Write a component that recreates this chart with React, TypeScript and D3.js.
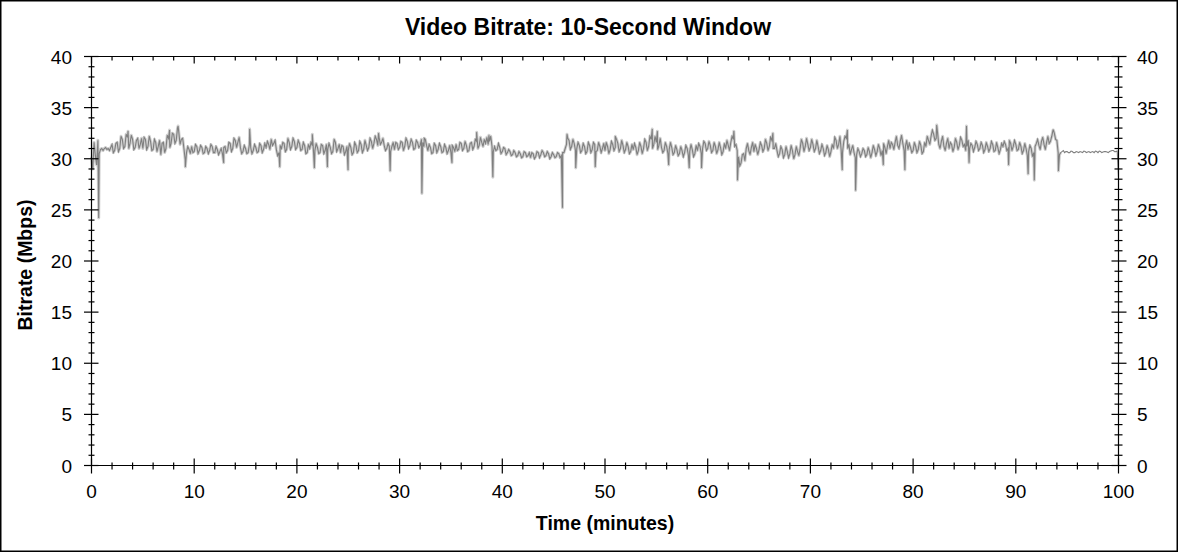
import { useEffect, useRef } from 'react';
import * as d3 from 'd3';

// minutes between samples in `bitrate`
const sampleStep = 0.25;

// 10-second window bitrate (Mbps) at t = 0, 0.25, 0.5 ... 100 min
const bitrate = [
  30.2, 31.6, 29.4, 30.5, 31.0, 31.0, 30.9, 30.8, 31.4, 30.8, 31.6, 31.0, 31.9, 31.2, 32.1, 31.5, 31.9, 31.1, 32.0, 31.4,
  31.0, 31.9, 31.2, 31.7, 30.9, 31.6, 31.2, 30.4, 31.6, 31.0, 32.0, 31.5, 32.4, 31.8, 32.6, 31.9, 31.0, 30.6, 30.9, 31.2,
  30.7, 31.2, 30.8, 31.1, 30.6, 31.0, 30.8, 31.2, 30.6, 30.9, 30.7, 30.5, 31.2, 30.8, 31.5, 31.0, 31.8, 31.6, 31.1, 30.7,
  31.0, 30.6, 31.1, 30.8, 31.1, 30.7, 31.3, 30.9, 31.1, 31.4, 31.9, 31.5, 30.9, 30.6, 31.0, 31.5, 30.9, 31.6, 31.2, 31.7,
  31.1, 31.5, 30.9, 31.3, 30.6, 31.0, 31.3, 30.8, 31.1, 30.6, 31.3, 30.8, 30.9, 31.1, 30.7, 31.6, 31.0, 30.6, 31.2, 30.7,
  30.8, 31.1, 30.6, 31.3, 30.8, 31.4, 30.9, 31.3, 31.1, 31.7, 31.5, 31.9, 32.1, 31.6, 31.3, 31.0, 31.2, 31.2, 30.9, 31.5,
  31.1, 31.6, 31.2, 31.7, 31.3, 31.6, 31.0, 31.6, 31.3, 31.6, 31.9, 30.8, 31.1, 30.6, 31.3, 30.9, 31.2, 30.7, 31.1, 30.8,
  30.6, 31.1, 31.4, 30.9, 31.5, 31.0, 31.3, 30.8, 31.6, 31.2, 31.7, 31.3, 31.6, 31.9, 32.1, 31.7, 31.2, 31.2, 30.9, 31.1,
  30.7, 31.0, 30.6, 30.7, 30.4, 30.6, 30.3, 30.5, 30.2, 30.6, 30.3, 30.1, 30.5, 30.2, 30.6, 30.4, 30.6, 30.3, 30.5, 30.2,
  30.4, 30.2, 30.5, 30.3, 30.6, 31.4, 31.8, 31.2, 31.5, 31.0, 31.3, 30.8, 31.2, 30.7, 31.3, 30.9, 31.4, 30.8, 31.2, 31.0,
  30.8, 31.2, 30.9, 31.4, 31.1, 31.5, 31.0, 31.3, 30.9, 31.2, 30.7, 30.9, 31.1, 30.8, 31.2, 31.0, 31.6, 31.2, 31.9, 31.4,
  31.6, 31.3, 31.1, 30.8, 31.2, 30.9, 31.1, 30.6, 30.9, 30.5, 30.8, 30.6, 31.0, 30.7, 30.9, 30.5, 30.8, 31.2, 31.0, 31.5,
  31.0, 31.3, 30.8, 31.2, 30.9, 31.1, 30.7, 31.0, 31.3, 31.6, 31.9, 31.4, 30.2, 29.6, 30.5, 31.0, 30.8, 31.1, 30.7, 31.0,
  30.9, 31.3, 31.0, 31.5, 31.2, 31.8, 31.0, 30.8, 30.5, 30.9, 30.4, 30.7, 30.5, 30.8, 30.4, 30.7, 31.0, 31.5, 31.2, 31.4,
  31.1, 31.4, 31.0, 31.2, 30.8, 31.0, 30.6, 30.9, 30.7, 31.0, 31.8, 31.4, 30.8, 31.7, 32.0, 31.4, 30.9, 30.6, 30.4, 30.7,
  30.5, 30.8, 30.4, 30.7, 30.6, 30.9, 30.7, 31.0, 30.8, 31.1, 31.2, 31.0, 31.4, 31.6, 31.3, 31.7, 31.5, 31.2, 30.9, 31.1,
  30.8, 31.2, 30.9, 31.3, 30.7, 31.2, 31.8, 32.2, 32.4, 32.0, 31.4, 31.7, 31.2, 31.5, 31.0, 31.4, 31.1, 31.6, 31.3, 31.8,
  31.4, 31.2, 31.0, 31.3, 31.1, 31.4, 31.0, 31.3, 30.9, 31.2, 31.0, 31.4, 30.8, 31.1, 30.9, 31.2, 31.4, 31.0, 31.5, 31.2,
  31.4, 30.9, 31.2, 30.8, 31.0, 30.7, 31.0, 30.6, 31.5, 31.3, 31.7, 31.4, 31.6, 31.5, 32.2, 32.5, 31.8, 30.4, 30.7, 30.6,
  30.7, 30.6, 30.7, 30.6, 30.65, 30.7, 30.6, 30.7, 30.65, 30.6, 30.7, 30.75, 30.6, 30.7, 30.65, 30.7, 30.6, 30.75, 30.8, 30.7,
  28.2,
];

// the in-between samples at t = 0.125, 0.375 ... 99.875 min
const bitrateMid = [
  29.0, 30.3, 31.8, 30.9, 30.8, 31.1, 31.0, 31.1, 30.6, 31.5, 30.7, 32.2, 31.0, 32.4, 31.0, 32.3, 30.9, 31.8, 31.0, 32.0,
  32.1, 30.9, 32.2, 30.8, 31.9, 30.7, 31.8, 31.5, 30.6, 32.3, 31.1, 32.5, 31.5, 33.0, 31.4, 32.0, 29.9, 31.2, 30.5, 30.6,
  31.4, 30.5, 31.3, 30.5, 31.2, 30.5, 31.4, 30.6, 31.2, 30.4, 31.0, 31.1, 30.6, 31.6, 30.7, 32.0, 31.1, 32.1, 30.5, 31.3,
  30.5, 31.4, 30.5, 31.4, 30.6, 31.5, 30.6, 31.5, 31.7, 30.9, 31.3, 31.8, 30.3, 31.3, 31.6, 30.7, 32.0, 30.9, 32.0, 30.9,
  31.8, 30.8, 31.6, 30.5, 31.4, 31.6, 30.6, 31.5, 30.5, 31.4, 30.5, 31.4, 31.5, 30.5, 31.9, 30.7, 31.4, 31.3, 30.4, 31.2,
  31.5, 30.4, 31.6, 30.6, 31.7, 30.6, 31.8, 30.8, 32.0, 31.0, 32.2, 31.3, 31.4, 32.0, 30.8, 31.5, 30.7, 31.6, 31.6, 30.9,
  31.7, 30.8, 32.0, 31.0, 31.9, 30.9, 31.8, 31.1, 31.9, 31.2, 31.3, 31.4, 30.5, 31.5, 30.6, 31.5, 30.6, 31.4, 30.5, 31.3,
  31.3, 30.7, 30.8, 31.6, 30.8, 31.7, 30.7, 31.5, 30.9, 31.9, 31.0, 32.1, 31.2, 31.5, 31.4, 32.2, 30.7, 30.8, 31.5, 30.5,
  31.1, 30.4, 30.9, 30.3, 30.8, 30.2, 30.7, 30.1, 30.7, 30.2, 30.6, 30.6, 30.0, 30.7, 30.1, 30.8, 30.2, 30.7, 30.0, 30.6,
  30.1, 30.6, 30.1, 30.6, 31.0, 32.0, 30.9, 31.9, 30.8, 31.6, 30.6, 31.5, 30.5, 31.6, 30.6, 31.6, 30.7, 31.6, 30.6, 31.5,
  31.6, 30.5, 31.7, 30.8, 31.9, 30.7, 31.8, 30.6, 31.6, 30.5, 31.4, 31.5, 30.4, 31.6, 30.5, 31.9, 30.8, 32.2, 31.0, 32.2,
  30.9, 32.0, 30.6, 31.6, 30.5, 31.6, 30.4, 31.3, 30.3, 31.2, 30.2, 31.3, 30.3, 31.4, 30.2, 31.3, 31.5, 30.5, 31.7, 30.8,
  31.7, 30.6, 31.6, 30.5, 31.6, 30.4, 31.5, 31.8, 30.8, 32.2, 31.2, 30.8, 29.3, 30.4, 29.8, 31.5, 30.4, 31.6, 31.4, 30.4,
  31.6, 30.7, 31.9, 30.8, 32.1, 31.0, 31.5, 30.2, 31.2, 30.1, 31.2, 30.1, 31.3, 30.0, 31.2, 30.3, 31.9, 30.7, 32.0, 30.8,
  31.9, 30.7, 31.8, 30.5, 31.4, 30.3, 31.3, 30.2, 31.4, 32.1, 31.0, 32.2, 30.6, 32.2, 31.0, 30.4, 31.3, 30.1, 31.0, 30.2,
  31.0, 30.2, 31.1, 30.1, 31.3, 30.3, 31.4, 30.3, 31.5, 30.5, 31.8, 31.6, 30.9, 32.2, 31.0, 32.3, 30.8, 31.8, 31.5, 30.6,
  31.6, 30.6, 31.7, 30.5, 31.6, 32.2, 31.4, 32.8, 31.8, 32.6, 31.0, 32.2, 30.8, 32.0, 31.6, 30.7, 32.0, 30.9, 32.1, 31.2,
  30.8, 31.8, 31.5, 30.7, 31.7, 30.8, 31.6, 30.6, 31.6, 30.7, 31.7, 30.7, 31.6, 30.5, 31.5, 31.7, 30.8, 31.8, 30.8, 31.8,
  30.8, 31.6, 30.5, 31.5, 30.3, 31.3, 30.2, 31.2, 31.9, 30.9, 32.1, 30.9, 32.2, 31.7, 32.8, 31.9, 30.6, 30.6, 30.8, 30.7,
  30.6, 30.75, 30.6, 30.7, 30.6, 30.65, 30.75, 30.6, 30.7, 30.65, 30.6, 30.7, 30.75, 30.6, 30.7, 30.65, 30.7, 30.8, 30.7, 30.75,
];

// short spikes and dips between samples: [minute, Mbps]
const spikes: [number, number][] = [
  [0.7, 24.2], [3.56, 32.7], [7.6, 32.8], [8.43, 33.2], [9.14, 29.2], [12.87, 29.6],
  [15.4, 32.9], [18.33, 29.2], [21.5, 32.4], [21.7, 29.1], [22.97, 29.2], [24.98, 28.9],
  [27.95, 32.5], [29.08, 28.8], [32.17, 26.6], [32.4, 32.0], [35.1, 29.6], [37.5, 32.6],
  [38.7, 32.3], [39.08, 28.2], [45.86, 25.2], [46.3, 32.4], [47.15, 29.1], [49.05, 29.2],
  [51.0, 32.2], [54.6, 32.9], [55.1, 32.7], [56.2, 29.4], [58.2, 29.1], [59.4, 29.1],
  [62.55, 32.7], [62.9, 27.9], [66.35, 32.5], [73.1, 28.9], [73.6, 32.8], [74.4, 26.9],
  [77.1, 29.4], [79.2, 28.9], [82.3, 33.3], [85.2, 33.2], [85.45, 29.6], [89.3, 29.4],
  [91.2, 28.5], [91.8, 27.9], [93.66, 32.8], [94.15, 28.8],
];

const xTicks = [0, 10, 20, 30, 40, 50, 60, 70, 80, 90, 100];
const yTicks = [0, 5, 10, 15, 20, 25, 30, 35, 40];

const FONT = "Arial, 'Liberation Sans', sans-serif";

const BitrateChart = () => {
  const svgRef = useRef<SVGSVGElement>(null);

  useEffect(() => {
    if (!svgRef.current) return;
    const width = 1178;
    const height = 552;
    const svg = d3.select(svgRef.current);
    svg.selectAll('*').remove();
    svg.attr('width', width).attr('height', height);

    const left = 91.5, right = 1118.5, top = 56.5, bottom = 465.5;

    const x = d3.scaleLinear().domain([0, 100]).range([left, right]);
    const y = d3.scaleLinear().domain([0, 40]).range([bottom, top]);

    svg.append('rect')
      .attr('x', 0.75).attr('y', 0.75)
      .attr('width', width - 1.5).attr('height', height - 1.5)
      .attr('fill', '#fff').attr('stroke', '#000').attr('stroke-width', 1.5);

    // title
    svg.append('text')
      .attr('x', 588).attr('y', 35)
      .attr('text-anchor', 'middle')
      .attr('font-family', FONT).attr('font-size', 23).attr('font-weight', 'bold')
      .text('Video Bitrate: 10-Second Window');

    // data
    const points = [
      ...bitrate.map((v, i) => ({ t: i * sampleStep, v })),
      ...bitrateMid.map((v, i) => ({ t: (i + 0.5) * sampleStep, v })),
      ...spikes.map(([t, v]) => ({ t, v })),
    ].sort((a, b) => a.t - b.t);

    const line = d3.line<{ t: number; v: number }>()
      .x(d => x(d.t))
      .y(d => y(d.v));

    svg.append('path')
      .datum(points.filter(d => d.t <= 94.4))
      .attr('d', line)
      .attr('fill', 'none')
      .attr('stroke', '#d0d0d0')
      .attr('stroke-width', 3)
      .attr('stroke-linejoin', 'round');

    svg.append('path')
      .datum(points)
      .attr('d', line)
      .attr('fill', 'none')
      .attr('stroke', '#7f7f7f')
      .attr('stroke-width', 1.1);

    // frame
    const frame = svg.append('g').attr('stroke', '#000').attr('stroke-width', 1.2);
    frame.append('line').attr('x1', left).attr('x2', right).attr('y1', top).attr('y2', top);
    frame.append('line').attr('x1', left).attr('x2', right).attr('y1', bottom).attr('y2', bottom);
    frame.append('line').attr('x1', left).attr('x2', left).attr('y1', top).attr('y2', bottom);
    frame.append('line').attr('x1', right).attr('x2', right).attr('y1', top).attr('y2', bottom);

    // ticks
    const minorX = d3.range(0, 101, 2).filter(t => t % 10 !== 0);
    const minorY = d3.range(0, 41, 1).filter(t => t % 5 !== 0);

    xTicks.forEach(t => {
      frame.append('line').attr('x1', x(t)).attr('x2', x(t)).attr('y1', bottom - 7).attr('y2', bottom + 8);
      frame.append('line').attr('x1', x(t)).attr('x2', x(t)).attr('y1', top).attr('y2', top + 7);
    });
    minorX.forEach(t => {
      frame.append('line').attr('x1', x(t)).attr('x2', x(t)).attr('y1', bottom - 3).attr('y2', bottom + 4);
      frame.append('line').attr('x1', x(t)).attr('x2', x(t)).attr('y1', top).attr('y2', top + 4);
    });
    yTicks.forEach(v => {
      frame.append('line').attr('x1', left - 7.5).attr('x2', left + 7).attr('y1', y(v)).attr('y2', y(v));
      frame.append('line').attr('x1', right - 7).attr('x2', right + 8).attr('y1', y(v)).attr('y2', y(v));
    });
    minorY.forEach(v => {
      frame.append('line').attr('x1', left - 3).attr('x2', left + 3).attr('y1', y(v)).attr('y2', y(v));
      frame.append('line').attr('x1', right - 4).attr('x2', right + 4).attr('y1', y(v)).attr('y2', y(v));
    });

    // tick labels
    const labels = svg.append('g').attr('font-family', FONT).attr('font-size', 19).attr('fill', '#000');
    xTicks.forEach(t => {
      labels.append('text').attr('x', x(t)).attr('y', 498).attr('text-anchor', 'middle').text(t);
    });
    yTicks.forEach(v => {
      labels.append('text').attr('x', 72).attr('y', y(v) + 7).attr('text-anchor', 'end').text(v);
      labels.append('text').attr('x', 1137).attr('y', y(v) + 7).attr('text-anchor', 'start').text(v);
    });

    // axis titles
    svg.append('text')
      .attr('x', 605).attr('y', 530)
      .attr('text-anchor', 'middle')
      .attr('font-family', FONT).attr('font-size', 19.5).attr('font-weight', 'bold')
      .text('Time (minutes)');

    svg.append('text')
      .attr('transform', 'translate(32,265) rotate(-90)')
      .attr('text-anchor', 'middle')
      .attr('font-family', FONT).attr('font-size', 19.5).attr('font-weight', 'bold')
      .text('Bitrate (Mbps)');
  }, []);

  return <svg ref={svgRef} style={{ display: 'block' }} />;
};

export default function App() {
  useEffect(() => {
    document.body.style.margin = '0';
  }, []);
  return <BitrateChart />;
}
